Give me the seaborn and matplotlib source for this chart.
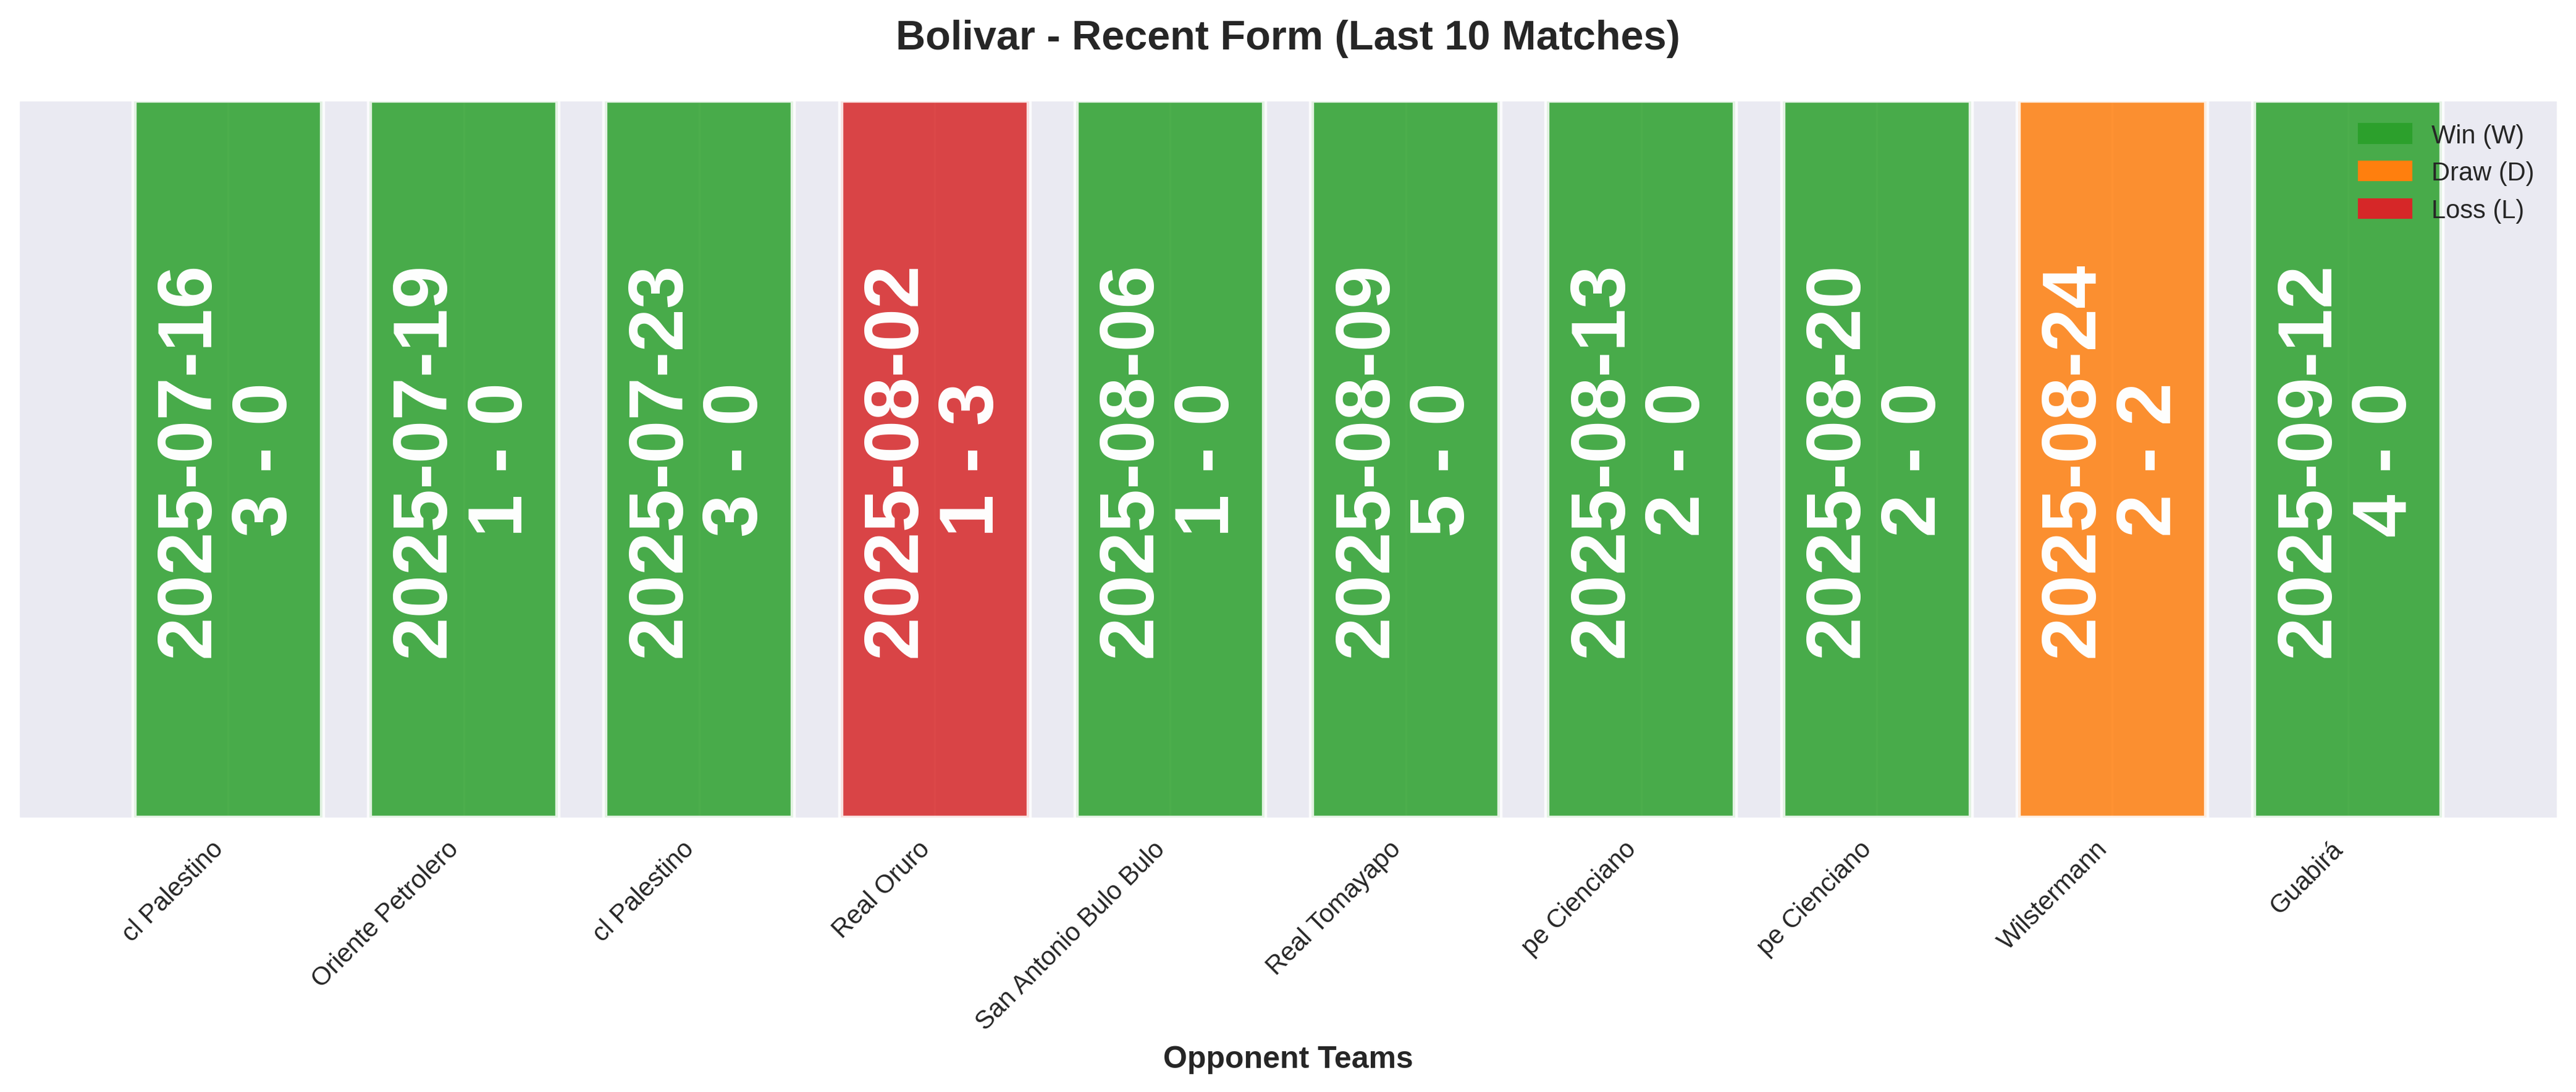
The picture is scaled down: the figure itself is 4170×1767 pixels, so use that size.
import numpy as np, pandas as pd
import matplotlib
matplotlib.use("Agg")
import matplotlib.pyplot as plt
from matplotlib.patches import Patch
import seaborn as sns

# --- data ---
teams = ["cl Palestino", "Oriente Petrolero", "cl Palestino", "Real Oruro",
         "San Antonio Bulo Bulo", "Real Tomayapo", "pe Cienciano", "pe Cienciano",
         "Wilstermann", "Guabirá"]
dates = ["2025-07-16", "2025-07-19", "2025-07-23", "2025-08-02", "2025-08-06",
         "2025-08-09", "2025-08-13", "2025-08-20", "2025-08-24", "2025-09-12"]
scores = ["3 - 0", "1 - 0", "3 - 0", "1 - 3", "1 - 0",
          "5 - 0", "2 - 0", "2 - 0", "2 - 2", "4 - 0"]
results = ["W", "W", "W", "L", "W", "W", "W", "W", "D", "W"]
heights = [1, 1, 1, 1, 1, 1, 1, 1, 1, 1]

res_colors = {"W": "#2ca02c", "D": "#ff7f0e", "L": "#d62728"}
res_labels = {"W": "Win (W)", "D": "Draw (D)", "L": "Loss (L)"}

sns.set_style("darkgrid")
plt.rcParams['font.family'] = ['Liberation Sans', 'DejaVu Sans']

df = pd.DataFrame({"match": range(len(teams)), "h": heights, "res": results})

fig = plt.figure(figsize=(13.9, 5.8933), dpi=300)
ax = fig.add_subplot(111)
fig.subplots_adjust(left=0.0072, right=0.9928, bottom=0.2506, top=0.9078)

sns.barplot(data=df, x="match", y="h", hue="res", hue_order=["W", "D", "L"],
            palette=res_colors, native_scale=True, dodge=False, width=0.8,
            saturation=1, errorbar=None, alpha=0.85, edgecolor="white",
            linewidth=2, legend=False, ax=ax)

for i, (d, s) in enumerate(zip(dates, scores)):
    ax.text(df["match"][i], heights[i] / 2, f"{d}\n{s}", rotation=90,
            ha="center", va="center", fontsize=30, fontweight="bold",
            color="white", linespacing=1.1)

ax.set_ylim(0, 1)
ax.set_yticks([])
ax.set_ylabel("")
ax.set_xticks(df["match"])
ax.set_xticklabels(teams, rotation=45, ha="right", fontsize=10)
ax.set_xlabel("Opponent Teams", fontsize=12, fontweight="bold")
ax.set_title("Bolivar - Recent Form (Last 10 Matches)", fontsize=16,
             fontweight="bold", pad=20)

handles = [Patch(color=res_colors[k], label=res_labels[k]) for k in ["W", "D", "L"]]
ax.legend(handles=handles, loc="upper right", frameon=False, fontsize=10)

fig.savefig("out.png", dpi=300)
